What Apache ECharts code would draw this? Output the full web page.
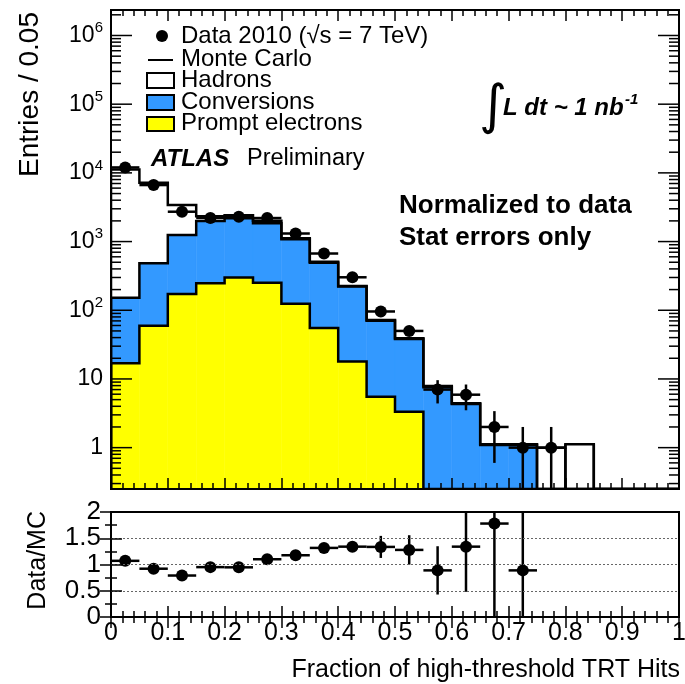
<!DOCTYPE html>
<html>
<head>
<meta charset="utf-8">
<script src="https://cdn.jsdelivr.net/npm/echarts@6/dist/echarts.min.js"></script>
<style>
html,body{margin:0;padding:0;background:#fff;}
#chart{width:685px;height:684px;}
</style>
</head>
<body>
<div id="chart"></div>
<script>
// Bins of the high-threshold hit fraction (lower edges), width 0.05
const binLow = [0.00,0.05,0.10,0.15,0.20,0.25,0.30,0.35,0.40,0.45,0.50,0.55,0.60,0.65,0.70,0.75,0.80,0.85,0.90,0.95];
const binWidth = 0.05;

// Monte Carlo components (entries per bin, normalized to data)
const promptElectrons = [16.9, 59.7, 173, 247, 299, 252, 124, 55, 17.9, 5.5, 3.34, 0, 0, 0, 0, 0, 0, 0, 0, 0];
const conversions     = [135, 423, 1075, 1748, 1885, 1594, 956, 438, 203, 65.1, 34.7, 7.57, 4.33, 1.09, 1.09, 0, 0, 0, 0, 0];
const hadrons         = [11050, 6720, 2172, 335, 231, 169, 37, 16, 5, 1.6, 1.1, 0.33, 0.1, 0.03, 0.03, 1.0, 1.12, 0, 0, 0];

// Data 2010 with statistical errors
const dataCounts = [12000, 6650, 2720, 2210, 2290, 2200, 1310, 670, 302, 96, 50, 7.0, 5.9, 2.0, 1.0, 1.0];
const dataErrors = [110, 82, 52, 47, 48, 47, 36, 26, 17, 9.8, 7.1, 2.6, 2.4, 1.4, 1.0, 1.0];

// Data/MC ratio panel
const ratioValues = [1.07, 0.92, 0.79, 0.95, 0.946, 1.10, 1.176, 1.316, 1.34, 1.335, 1.278, 0.888, 1.34, 1.78, 0.888];
const ratioErrors = [0.012, 0.013, 0.016, 0.02, 0.02, 0.025, 0.033, 0.05, 0.08, 0.21, 0.28, 0.46, 0.86, 1.9, 1.3];

// Axis tick labels
const xTickLabels = ['0','0.1','0.2','0.3','0.4','0.5','0.6','0.7','0.8','0.9','1'];
const ratioTickLabels = ['0','0.5','1','1.5','2'];
const logMinorMultipliers = [2,3,4,5,6,7,8,9];
const logDecades = [-1,0,1,2,3,4,5,6];

const Y_MIN = 0.25, Y_MAX = 2.35e6;
const FONT = "'Liberation Sans', Arial, Helvetica, sans-serif";
const BLUE = '#3399ff', YELLOW = '#ffff00';

// cumulative stack tops: prompt, prompt+conversions, total MC
const topPrompt = promptElectrons.slice();
const topConv = promptElectrons.map((v, i) => v + conversions[i]);
const topTotal = topConv.map((v, i) => v + hadrons[i]);
const stackTops = [topPrompt, topConv, topTotal];

function layerBoxes(lo, hi) {
  return binLow.map((x, i) => [x, x + binWidth, lo ? lo[i] : 0, hi[i]]);
}

function histBox(params, api) {
  const hi = api.value(3);
  if (!(hi > Y_MIN)) return null;
  const lo = Math.max(api.value(2), Y_MIN);
  const p0 = api.coord([api.value(0), hi]);
  const p1 = api.coord([api.value(1), lo]);
  const c = api.visual('color');
  return {
    type: 'rect',
    shape: {x: p0[0], y: p0[1], width: p1[0] - p0[0], height: p1[1] - p0[1]},
    style: {fill: c, stroke: c, lineWidth: 0.5}
  };
}

// step contour of one stack layer; bins holding only the top layer are boxed to the floor
function stackOutline(params, api) {
  const layer = api.value(0);
  const tops = stackTops[layer];
  const st = {stroke: '#000', lineWidth: 2.5, fill: null};
  const pts = [];
  const extra = [];
  let prev = Y_MIN;
  binLow.forEach((x0, i) => {
    const v = tops[i] > Y_MIN ? tops[i] : Y_MIN;
    pts.push(api.coord([x0, prev]), api.coord([x0, v]), api.coord([x0 + binWidth, v]));
    prev = v;
    if (layer === 2 && v > Y_MIN && !(topConv[i] > Y_MIN)) {
      [x0, x0 + binWidth].forEach(xe => {
        const a = api.coord([xe, v]), b = api.coord([xe, Y_MIN]);
        extra.push({type: 'line', shape: {x1: a[0], y1: a[1], x2: b[0], y2: b[1]}, style: st});
      });
    }
  });
  pts.push(api.coord([1, Y_MIN]));
  return {type: 'group', children: [{type: 'polyline', shape: {points: pts}, style: st}].concat(extra)};
}

function errorPoint(yFloor) {
  return function (params, api) {
    const x = api.value(0), y = api.value(1), ey = api.value(2);
    const c = api.coord([x, y]);
    const l = api.coord([x - binWidth / 2, y]);
    const r = api.coord([x + binWidth / 2, y]);
    const up = api.coord([x, y + ey]);
    const dn = api.coord([x, Math.max(y - ey, yFloor)]);
    const st = {stroke: '#000', lineWidth: 2.5};
    return {
      type: 'group',
      children: [
        {type: 'line', shape: {x1: l[0], y1: l[1], x2: r[0], y2: r[1]}, style: st},
        {type: 'line', shape: {x1: up[0], y1: up[1], x2: dn[0], y2: dn[1]}, style: st},
        {type: 'circle', shape: {cx: c[0], cy: c[1], r: 6}, style: {fill: '#000'}}
      ]
    };
  };
}

// ticks of the logarithmic axis (decades long, 2..9 short), drawn inside both sides of the frame
const logTickMarks = [];
logDecades.forEach(d => {
  const major = Math.pow(10, d);
  if (major > Y_MIN && major < Y_MAX) logTickMarks.push([0, major, 21]);
  logMinorMultipliers.forEach(m => {
    const v = m * major;
    if (v > Y_MIN && v < Y_MAX) logTickMarks.push([0, v, 10]);
  });
});
function logTick(params, api) {
  const len = api.value(2);
  const l = api.coord([0, api.value(1)]);
  const r = api.coord([1, api.value(1)]);
  const st = {stroke: '#000', lineWidth: 1.5};
  return {type: 'group', children: [
    {type: 'line', shape: {x1: l[0], y1: l[1], x2: l[0] + len, y2: l[1]}, style: st},
    {type: 'line', shape: {x1: r[0], y1: r[1], x2: r[0] - len, y2: r[1]}, style: st}
  ]};
}

const dataPoints = dataCounts.map((v, i) => [binLow[i] + binWidth / 2, v, dataErrors[i]]);
const ratioPoints = ratioValues.map((v, i) => [binLow[i] + binWidth / 2, v, ratioErrors[i]]);

const tickStyle = {color: '#000', width: 1.5};
function xAxisDef(gridIndex, position, showLabels) {
  return {
    type: 'value', gridIndex, position, min: 0, max: 1, interval: 0.1, z: 10,
    axisLine: {show: false},
    axisTick: {show: true, inside: true, length: 11, lineStyle: tickStyle},
    minorTick: {show: true, splitNumber: 5, length: 6, lineStyle: tickStyle},
    splitLine: {show: false},
    axisLabel: showLabels ? {
      show: true, margin: 4, color: '#000', fontFamily: FONT, fontSize: 25,
      formatter: v => xTickLabels[Math.round(v * 10)]
    } : {show: false}
  };
}
function logYAxisDef(position, showLabels) {
  return {
    type: 'log', logBase: 10, gridIndex: 0, position, min: Y_MIN, max: Y_MAX, z: 10,
    axisLine: {show: false},
    axisTick: {show: false},
    splitLine: {show: false},
    axisLabel: showLabels ? {
      show: true, margin: 8, showMinLabel: false, showMaxLabel: false, color: '#000',
      formatter: v => {
        const e = Math.round(Math.log10(v));
        if (e === 0) return '{b|1}';
        if (e === 1) return '{b|10}';
        return '{b|10}{e|' + e + '}';
      },
      rich: {
        b: {fontFamily: FONT, fontSize: 23, lineHeight: 30, color: '#000'},
        e: {fontFamily: FONT, fontSize: 15, lineHeight: 15, padding: [0, 0, 15, 0], color: '#000'}
      }
    } : {show: false}
  };
}
function ratioYAxisDef(position, showLabels) {
  return {
    type: 'value', gridIndex: 1, position, min: 0, max: 2, interval: 0.5, z: 10,
    axisLine: {show: false},
    axisTick: {show: true, inside: true, length: 11, lineStyle: tickStyle},
    minorTick: {show: true, splitNumber: 2, length: 6, lineStyle: tickStyle},
    splitLine: showLabels ? {show: true, showMinLine: false, showMaxLine: false,
      lineStyle: {color: '#666', width: 1, type: [2, 2]}} : {show: false},
    axisLabel: showLabels ? {
      show: true, margin: 10, color: '#000', fontFamily: FONT, fontSize: 26,
      formatter: v => ratioTickLabels[Math.round(v * 2)]
    } : {show: false}
  };
}

const chart = echarts.init(document.getElementById('chart'), null, {renderer: 'canvas'});
chart.setOption({
  animation: false,
  backgroundColor: '#fff',
  grid: [
    {left: 111, top: 10, width: 568, height: 479, show: true, borderColor: '#000', borderWidth: 2, z: 10, outerBoundsMode: 'none', containLabel: false},
    {left: 111, top: 512, width: 568, height: 105, show: true, borderColor: '#000', borderWidth: 2, z: 10, outerBoundsMode: 'none', containLabel: false}
  ],
  xAxis: [
    xAxisDef(0, 'bottom', false),
    xAxisDef(0, 'top', false),
    xAxisDef(1, 'bottom', true),
    xAxisDef(1, 'top', false)
  ],
  yAxis: [
    logYAxisDef('left', true),
    logYAxisDef('right', false),
    ratioYAxisDef('left', true),
    ratioYAxisDef('right', false)
  ],
  series: [
    {name: 'Hadrons', type: 'custom', xAxisIndex: 0, yAxisIndex: 0, clip: true, z: 1,
      itemStyle: {color: '#ffffff'}, renderItem: histBox, data: layerBoxes(topConv, topTotal)},
    {name: 'Conversions', type: 'custom', xAxisIndex: 0, yAxisIndex: 0, clip: true, z: 1,
      itemStyle: {color: BLUE}, renderItem: histBox, data: layerBoxes(topPrompt, topConv)},
    {name: 'Prompt electrons', type: 'custom', xAxisIndex: 0, yAxisIndex: 0, clip: true, z: 1,
      itemStyle: {color: YELLOW}, renderItem: histBox, data: layerBoxes(null, topPrompt)},
    {name: 'Monte Carlo', type: 'custom', xAxisIndex: 0, yAxisIndex: 0, clip: true, z: 2,
      renderItem: stackOutline, data: [[0, 1], [1, 1], [2, 1]]},
    {name: 'Data 2010', type: 'custom', xAxisIndex: 0, yAxisIndex: 0, clip: true, z: 3,
      renderItem: errorPoint(Y_MIN), data: dataPoints},
    {name: 'log axis ticks', type: 'custom', xAxisIndex: 0, yAxisIndex: 0, clip: false, z: 11,
      renderItem: logTick, data: logTickMarks},
    {name: 'Data/MC', type: 'custom', xAxisIndex: 2, yAxisIndex: 2, clip: true, z: 3,
      renderItem: errorPoint(0), data: ratioPoints}
  ],
  graphic: [
    // legend
    {type: 'circle', shape: {cx: 162, cy: 36, r: 6}, style: {fill: '#000'}},
    {type: 'text', x: 181, y: 36, style: {text: 'Data 2010 (\u221As = 7 TeV)', font: '24px ' + FONT, fill: '#000', textVerticalAlign: 'middle'}},
    {type: 'line', shape: {x1: 148, y1: 60, x2: 173, y2: 60}, style: {stroke: '#000', lineWidth: 2}},
    {type: 'text', x: 181, y: 59, style: {text: 'Monte Carlo', font: '24px ' + FONT, fill: '#000', textVerticalAlign: 'middle'}},
    {type: 'rect', shape: {x: 147, y: 73, width: 27, height: 15}, style: {fill: '#fff', stroke: '#000', lineWidth: 2}},
    {type: 'text', x: 181, y: 80, style: {text: 'Hadrons', font: '24px ' + FONT, fill: '#000', textVerticalAlign: 'middle'}},
    {type: 'rect', shape: {x: 147, y: 95, width: 27, height: 15}, style: {fill: BLUE, stroke: '#000', lineWidth: 2}},
    {type: 'text', x: 181, y: 102, style: {text: 'Conversions', font: '24px ' + FONT, fill: '#000', textVerticalAlign: 'middle'}},
    {type: 'rect', shape: {x: 147, y: 117, width: 27, height: 14}, style: {fill: YELLOW, stroke: '#000', lineWidth: 2}},
    {type: 'text', x: 181, y: 123, style: {text: 'Prompt electrons', font: '24px ' + FONT, fill: '#000', textVerticalAlign: 'middle'}},
    // labels
    {type: 'text', x: 151, y: 159, style: {text: 'ATLAS', font: 'italic bold 24px ' + FONT, fill: '#000', textVerticalAlign: 'middle'}},
    {type: 'text', x: 247, y: 159, style: {text: 'Preliminary', font: '23.5px ' + FONT, fill: '#000', textVerticalAlign: 'middle'}},
    {type: 'text', x: 479, y: 109, style: {text: '\u222B', font: 'italic 54px ' + "'DejaVu Sans', sans-serif", fill: '#000', textVerticalAlign: 'middle'}},
    {type: 'text', x: 503, y: 108, style: {text: 'L dt ~ 1 nb', font: 'italic bold 24px ' + FONT, fill: '#000', textVerticalAlign: 'middle'}},
    {type: 'text', x: 625, y: 100, style: {text: '-1', font: 'italic bold 15px ' + FONT, fill: '#000', textVerticalAlign: 'middle'}},
    {type: 'text', x: 399, y: 206, style: {text: 'Normalized to data', font: 'bold 26px ' + FONT, fill: '#000', textVerticalAlign: 'middle'}},
    {type: 'text', x: 399, y: 238, style: {text: 'Stat errors only', font: 'bold 26px ' + FONT, fill: '#000', textVerticalAlign: 'middle'}},
    // axis titles
    {type: 'text', x: 30, y: 12, rotation: Math.PI / 2, style: {text: 'Entries / 0.05', font: '28px ' + FONT, fill: '#000', textAlign: 'right', textVerticalAlign: 'middle'}},
    {type: 'text', x: 38, y: 511, rotation: Math.PI / 2, style: {text: 'Data/MC', font: '25px ' + FONT, fill: '#000', textAlign: 'right', textVerticalAlign: 'middle'}},
    {type: 'text', x: 680, y: 670, style: {text: 'Fraction of high-threshold TRT Hits', font: '25px ' + FONT, fill: '#000', textAlign: 'right', textVerticalAlign: 'middle'}}
  ]
});
</script>
</body>
</html>
